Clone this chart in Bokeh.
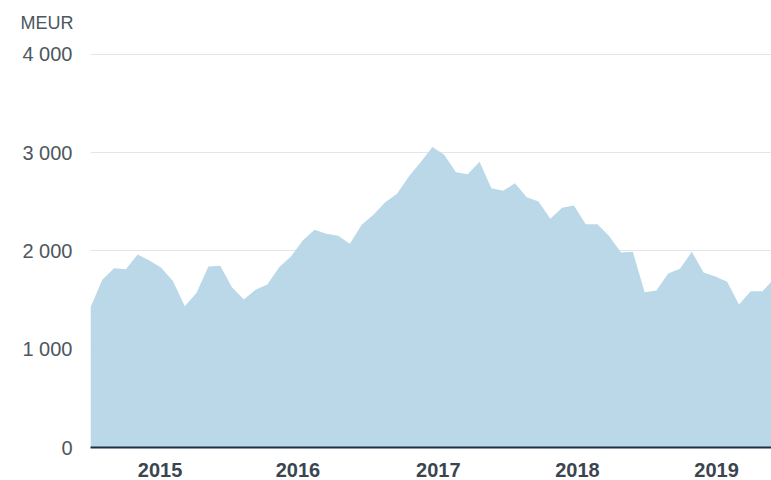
from bokeh.plotting import figure
from bokeh.models import ColumnDataSource, FixedTicker, Range1d
from bokeh.embed import file_html
from bokeh.resources import INLINE

# Monthly values, Jan 2015 .. Nov 2019 (MEUR)
months = [f"{y}-{m:02d}" for y in range(2015, 2020) for m in range(1, 13)][:59]
values = [1425, 1707, 1825, 1815, 1964, 1903, 1829, 1693, 1438, 1575,
          1842, 1849, 1632, 1506, 1605, 1659, 1835, 1944, 2107, 2216,
          2175, 2155, 2073, 2267, 2368, 2497, 2582, 2758, 2904, 3057,
          2979, 2802, 2782, 2907, 2639, 2612, 2690, 2548, 2504, 2328,
          2440, 2463, 2273, 2273, 2151, 1985, 1992, 1581, 1598, 1771,
          1819, 1992, 1781, 1740, 1686, 1455, 1591, 1591, 1720]
year_labels = ["2015", "2016", "2017", "2018", "2019"]
year_label_pos = [5.9, 17.6, 29.5, 41.3, 53.1]
y_ticks = [0, 1000, 2000, 3000, 4000]
y_tick_labels = ["0", "1 000", "2 000", "3 000", "4 000"]

idx = list(range(len(values)))
src = ColumnDataSource(dict(x=idx, y=values, y0=[0] * len(values), month=months))

FONT = "Liberation Sans"

p = figure(width=771, height=480, output_backend="svg", toolbar_location=None,
           x_range=Range1d(0, 57.76), y_range=Range1d(0, 4142),
           min_border_left=90, min_border_right=0, min_border_top=40,
           min_border_bottom=33)
p.outline_line_color = None
p.background_fill_color = "white"
p.border_fill_color = "white"

p.title.text = "MEUR"
p.title.align = "left"
p.title.offset = -70
p.title.text_font = FONT
p.title.text_font_size = "18px"
p.title.text_font_style = "normal"
p.title.text_color = "#4d5760"
p.title.standoff = 15

p.varea(x="x", y1="y0", y2="y", source=src, fill_color="#bad8e8")

# y axis
p.yaxis.ticker = FixedTicker(ticks=y_ticks)
p.yaxis.major_label_overrides = {t: l for t, l in zip(y_ticks, y_tick_labels)}
p.yaxis.axis_line_color = None
p.yaxis.major_tick_line_color = None
p.yaxis.minor_tick_line_color = None
p.yaxis.major_tick_out = 0
p.yaxis.major_tick_in = 0
p.yaxis.major_label_standoff = 18
p.yaxis.major_label_text_font = FONT
p.yaxis.major_label_text_font_size = "20px"
p.yaxis.major_label_text_color = "#4d5760"
p.ygrid.ticker = FixedTicker(ticks=[1000, 2000, 3000, 4000])
p.ygrid.grid_line_color = "#e1e7e7"
p.ygrid.grid_line_width = 1

# x axis
p.xaxis.ticker = FixedTicker(ticks=year_label_pos)
p.xaxis.major_label_overrides = {t: l for t, l in zip(year_label_pos, year_labels)}
p.xaxis.axis_line_color = "#1f2f40"
p.xaxis.axis_line_width = 2
p.xaxis.major_tick_line_color = None
p.xaxis.minor_tick_line_color = None
p.xaxis.major_tick_out = 0
p.xaxis.major_tick_in = 0
p.xaxis.major_label_standoff = 15
p.xaxis.major_label_text_font = FONT
p.xaxis.major_label_text_font_style = "bold"
p.xaxis.major_label_text_font_size = "20px"
p.xaxis.major_label_text_color = "#3b4550"
p.xgrid.grid_line_color = None

open("out.html", "w").write(file_html(p, INLINE))
